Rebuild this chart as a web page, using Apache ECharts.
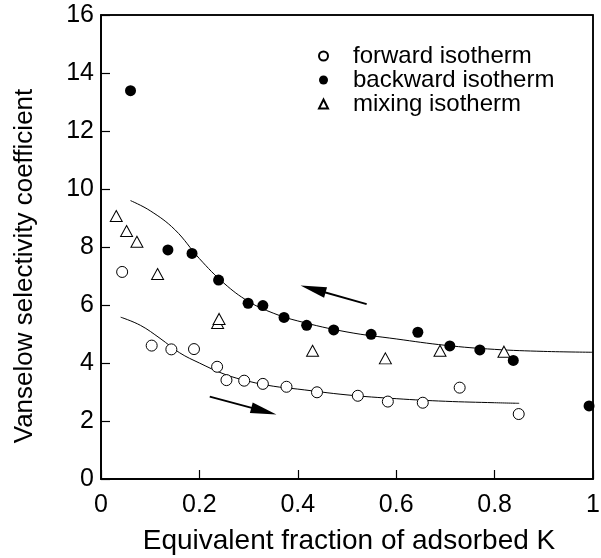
<!DOCTYPE html>
<html>
<head>
<meta charset="utf-8">
<script src="https://cdn.jsdelivr.net/npm/echarts@6/dist/echarts.min.js"></script>
<style>
  html, body { margin: 0; padding: 0; background: #fff; }
  #chart { width: 601px; height: 558px; }
</style>
</head>
<body>
<div id="chart"></div>
<script>
// 数据点 [x, y]
var forwardData = [[0.043, 7.14], [0.103, 4.6], [0.143, 4.47], [0.189, 4.48], [0.236, 3.87],
    [0.255, 3.41], [0.291, 3.39], [0.329, 3.28], [0.377, 3.18], [0.439, 2.99], [0.522, 2.87],
    [0.583, 2.67], [0.654, 2.63], [0.729, 3.15], [0.849, 2.24]];
var backwardData = [[0.06, 13.39], [0.136, 7.9], [0.185, 7.78], [0.239, 6.86], [0.299, 6.06],
    [0.329, 5.98], [0.372, 5.57], [0.418, 5.3], [0.473, 5.14], [0.549, 4.99], [0.644, 5.06],
    [0.709, 4.59], [0.77, 4.45], [0.838, 4.09], [0.992, 2.52]];
var mixingData = [[0.031, 9.07], [0.052, 8.55], [0.073, 8.18], [0.115, 7.07], [0.237, 5.38],
    [0.24, 5.52], [0.43, 4.42], [0.578, 4.16], [0.689, 4.42], [0.819, 4.39]];

// 拟合曲线
var backwardFit = [[0.06, 9.6], [0.1, 9.25], [0.15, 8.6], [0.2, 7.6], [0.25, 6.75], [0.3, 6.12],
    [0.35, 5.72], [0.4, 5.45], [0.5, 5.07], [0.6, 4.83], [0.7, 4.61], [0.8, 4.47], [0.9, 4.4], [1.0, 4.37]];
var forwardFit = [[0.04, 5.58], [0.08, 5.3], [0.12, 4.85], [0.16, 4.35], [0.2, 4.0], [0.25, 3.62],
    [0.3, 3.37], [0.35, 3.2], [0.4, 3.1], [0.5, 2.9], [0.6, 2.77], [0.7, 2.68], [0.8, 2.63], [0.85, 2.61]];

// 箭头 [起点, 终点]
var upperArrow = [[0.54, 6.03], [0.431, 6.55]];
var lowerArrow = [[0.221, 2.84], [0.331, 2.34]];

var legendNames = ['forward isotherm', 'backward isotherm', 'mixing isotherm'];
var xTitle = 'Equivalent fraction of adsorbed K';
var yTitle = 'Vanselow selectivity coefficient';
var xRange = [0, 1];
var yRange = [0, 16];

var font = 'Liberation Sans, Arial, sans-serif';
var black = '#000';

var arrowLine = function(a) {
    return [{coord: a[0], symbol: 'none'}, {coord: a[1], symbol: 'triangle'}];
};

var myChart = echarts.init(document.getElementById('chart'));

var option = {
    animation: false,
    grid: {
        left: 101, right: 8, top: 15, bottom: 79,
        outerBoundsMode: 'none',
        show: true,
        z: 10,
        borderColor: black,
        borderWidth: 1.5
    },
    // 坐标轴标题
    graphic: [
        {
            type: 'text',
            x: 349, y: 541,
            style: {text: xTitle, fontFamily: font, fontSize: 28, fill: black, align: 'center', verticalAlign: 'middle'}
        },
        {
            type: 'text',
            x: 25, y: 266,
            rotation: Math.PI / 2,
            style: {text: yTitle, fontFamily: font, fontSize: 26, fill: black, align: 'center', verticalAlign: 'middle'}
        }
    ],
    legend: {
        orient: 'vertical',
        left: 318,
        top: 44,
        padding: 0,
        itemGap: 0,
        itemWidth: 9,
        itemHeight: 9,
        data: legendNames,
        textStyle: {
            fontFamily: font,
            fontSize: 24,
            color: black,
            lineHeight: 24,
            padding: [0, 0, 0, 20]
        }
    },
    xAxis: {
        type: 'value',
        z: 10,
        min: xRange[0], max: xRange[1], interval: 0.2,
        axisLine: {show: true, lineStyle: {color: black, width: 1.5}},
        axisTick: {show: true, inside: true, length: 9, lineStyle: {color: black, width: 1.2}},
        splitLine: {show: false},
        axisLabel: {fontFamily: font, fontSize: 25, color: black, margin: 14}
    },
    yAxis: {
        type: 'value',
        z: 10,
        min: yRange[0], max: yRange[1], interval: 2,
        axisLine: {show: true, lineStyle: {color: black, width: 1.5}},
        axisTick: {show: true, inside: true, length: 9, lineStyle: {color: black, width: 1.2}},
        splitLine: {show: false},
        axisLabel: {fontFamily: font, fontSize: 25, color: black, margin: 7}
    },
    series: [
        {
            name: 'forward isotherm',
            type: 'scatter',
            clip: false,
            symbol: 'circle',
            symbolSize: 11,
            itemStyle: {color: '#fff', borderColor: black, borderWidth: 1, opacity: 1},
            data: forwardData,
            z: 3
        },
        {
            name: 'backward isotherm',
            type: 'scatter',
            clip: false,
            symbol: 'circle',
            symbolSize: 11,
            itemStyle: {color: black, opacity: 1},
            data: backwardData,
            z: 3
        },
        {
            name: 'mixing isotherm',
            type: 'scatter',
            clip: false,
            symbol: 'triangle',
            symbolSize: [12, 11],
            itemStyle: {color: '#fff', borderColor: black, borderWidth: 1, opacity: 1},
            data: mixingData,
            z: 3
        },
        {
            name: 'backward fit',
            type: 'line',
            smooth: 0.4,
            showSymbol: false,
            symbol: 'none',
            lineStyle: {color: black, width: 1},
            data: backwardFit,
            z: 2,
            markLine: {
                silent: true,
                symbolSize: [11, 26],
                label: {show: false},
                lineStyle: {color: black, width: 2, type: 'solid'},
                itemStyle: {color: black},
                data: [arrowLine(upperArrow)]
            },
            // 图框（备用，与坐标轴边框重合）
            markArea: {
                silent: true,
                label: {show: false},
                itemStyle: {color: 'rgba(0,0,0,0)', borderColor: black, borderWidth: 1.5},
                data: [[{coord: [xRange[0], yRange[0]]}, {coord: [xRange[1], yRange[1]]}]]
            }
        },
        {
            name: 'forward fit',
            type: 'line',
            smooth: 0.4,
            showSymbol: false,
            symbol: 'none',
            lineStyle: {color: black, width: 1},
            data: forwardFit,
            z: 2,
            markLine: {
                silent: true,
                symbolSize: [11, 26],
                label: {show: false},
                lineStyle: {color: black, width: 2, type: 'solid'},
                itemStyle: {color: black},
                data: [arrowLine(lowerArrow)]
            }
        }
    ]
};

myChart.setOption(option);
</script>
</body>
</html>
